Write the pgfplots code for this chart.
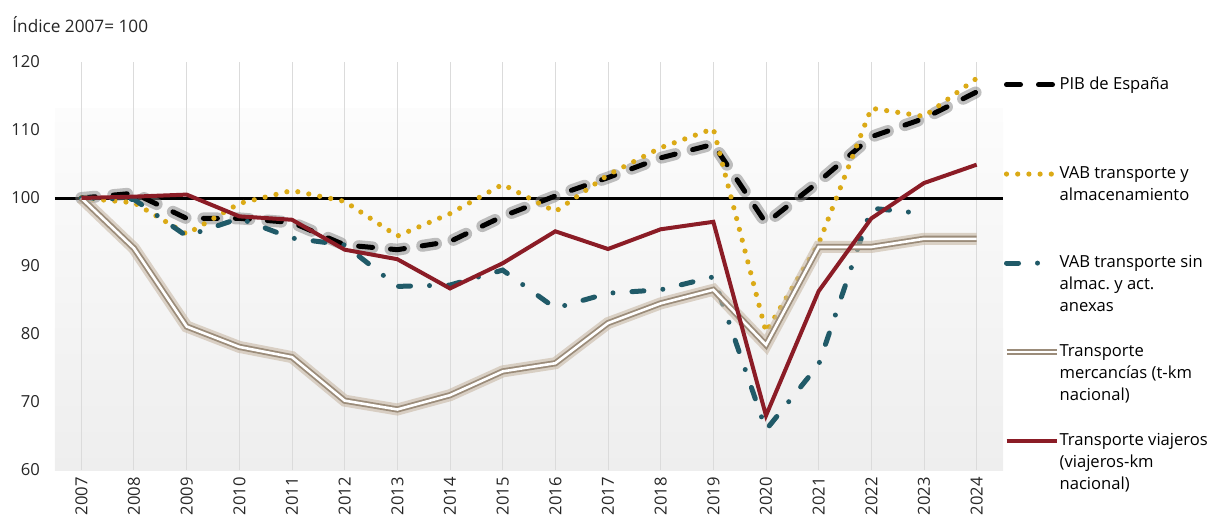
\documentclass[border=0pt]{standalone}
\usepackage{pgfplots}
\pgfplotsset{compat=1.18}
\usepackage{pgfplotstable}
\usepackage{fontspec}
\setmainfont{Open Sans}
\frenchspacing

\definecolor{pibglow}{RGB}{130,130,130}
\definecolor{oro}{RGB}{219,170,22}
\definecolor{vabteal}{RGB}{32,90,104}
\definecolor{merc}{RGB}{155,140,122}
\definecolor{mercglow}{RGB}{200,184,165}
\definecolor{viaj}{RGB}{139,28,38}
\definecolor{bgtop}{RGB}{252,252,252}
\definecolor{bgbot}{RGB}{238,238,238}

% Indices 2007 = 100 (x = 0 is 2007)
\pgfplotstableread{
x  pib    vab    vabsin  merc   viaj
0  100.0  100.0  100.0   100.0  100.0
1  100.7  99.3   99.8    92.6   100.2
2  97.0   94.7   94.4    81.1   100.5
3  97.0   99.2   97.0    78.1   97.3
4  96.4   101.1  94.1    76.6   96.8
5  93.1   99.5   93.1    70.2   92.4
6  92.4   94.4   87.0    68.9   91.0
7  93.6   97.7   87.2    71.0   86.7
8  97.3   102.0  89.4    74.5   90.4
9  100.3  98.0   83.8    75.7   95.1
10 103.0  103.4  86.0    81.6   92.5
11 105.9  107.4  86.5    84.5   95.4
12 107.9  110.2  88.4    86.5   96.5
13 96.3   80.3   65.9    78.4   68.0
14 102.4  93.3   75.5    92.8   86.3
15 109.0  113.2  98.5    92.8   97.0
16 111.7  112.0  97.7    94.0   102.2
17 115.6  117.6  nan     94.0   104.9
}\datos

\newcommand{\leg}[1]{\parbox[t]{80pt}{\raggedright #1}}

\begin{document}
\begin{tikzpicture}
\begin{axis}[
  set layers,
  scale only axis,
  width=474pt, height=204pt,
  xmin=-0.5, xmax=17.5,
  ymin=60, ymax=120,
  xtick={0,...,17},
  xticklabels={2007,2008,2009,2010,2011,2012,2013,2014,2015,2016,2017,2018,2019,2020,2021,2022,2023,2024},
  ytick={60,70,...,120},
  axis line style={draw=none},
  major tick length=0pt,
  xmajorgrids,
  major x grid style={black!14, line width=0.5pt},
  tick label style={font=\fontsize{8.3}{10}\selectfont, text=black!85},
  /pgf/number format/assume math mode=true,
  xticklabel style={rotate=90, anchor=east},
  yticklabel style={anchor=east, xshift=-4pt},
  unbounded coords=jump,
  legend image code/.code={\draw[#1] (0pt,0pt) -- (25pt,0pt);},
  legend cell align=left,
  legend style={
    at={(1,1)}, anchor=north west, yshift=-7.3pt,
    draw=none, fill=none, inner sep=0pt,
    font=\fontsize{8.3}{11}\selectfont,
    row sep=37pt, column sep=0pt,
    nodes={inner sep=0pt},
  },
]
\begin{pgfonlayer}{axis background}
  \fill[top color=bgtop, bottom color=bgbot] (axis cs:-0.5,60) rectangle (axis cs:17.5,113.2);
\end{pgfonlayer}

% reference level 100
\addplot[black, line width=1.5pt, forget plot] coordinates {(-0.5,100) (17.5,100)};

% PIB de España (soft halo, then dashes)
\addplot[pibglow, opacity=0.5, line width=6pt, line cap=round, dash pattern=on 7pt off 9pt, forget plot]
  table[x=x, y=pib] {\datos};
\addplot[black, line width=2.5pt, line cap=round, dash pattern=on 7pt off 9pt]
  table[x=x, y=pib] {\datos};
\addlegendentry{\leg{PIB de España}}

% VAB transporte y almacenamiento
\addplot[oro, line width=2.6pt, line cap=round, dash pattern=on 0pt off 5.6pt]
  table[x=x, y=vab] {\datos};
\addlegendentry{\leg{VAB transporte y\\almacenamiento}}

% VAB transporte sin almacenamiento
\addplot[vabteal, line width=2.5pt, line cap=round, dash pattern=on 6pt off 9.5pt on 0pt off 9.5pt]
  table[x=x, y=vabsin] {\datos};
\addlegendentry{\leg{VAB transporte sin\\almac. y act.\\anexas}}

% Transporte de mercancías
\addplot[mercglow, opacity=0.6, line width=6pt, forget plot]
  table[x=x, y=merc] {\datos};
\addplot[merc, line width=0.9pt, double=white, double distance=1.3pt]
  table[x=x, y=merc] {\datos};
\addlegendentry{\leg{Transporte\\mercancías (t-km\\nacional)}}

% Transporte de viajeros
\addplot[viaj, line width=2pt]
  table[x=x, y=viaj] {\datos};
\addlegendentry{\leg{Transporte viajeros\\(viajeros-km\\nacional)}}

\coordinate (bl) at (rel axis cs:0,0);
\coordinate (tr) at (rel axis cs:1,1);
\coordinate (tl) at (rel axis cs:0,1);
\end{axis}

\node[anchor=west, font=\fontsize{8.6}{10}\selectfont, text=black!85, inner sep=0pt]
  at ([shift={(-21.5pt,18.5pt)}]tl) {Índice 2007= 100};

\pgfresetboundingbox
\path[use as bounding box] ([shift={(-27.5pt,-27.5pt)}]bl) rectangle ([shift={(104pt,31pt)}]tr);
\end{tikzpicture}
\end{document}
